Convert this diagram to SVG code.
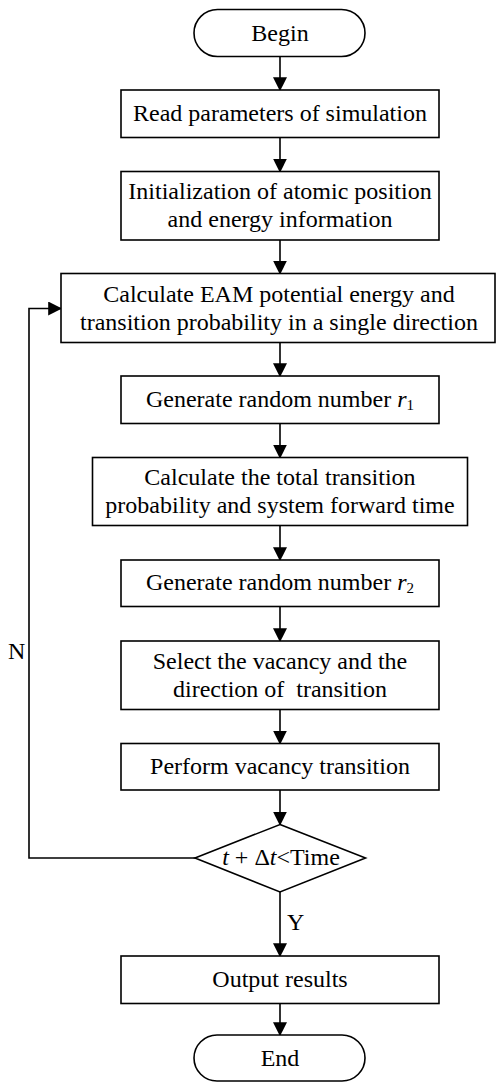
<svg xmlns="http://www.w3.org/2000/svg" width="496" height="1082" viewBox="0 0 496 1082">
  <style>
    .shape { fill: #ffffff; stroke: #000000; stroke-width: 1.6; }
    .label { font-family: "Liberation Serif", "Times New Roman", serif; font-size: 24px; fill: #000000; text-anchor: middle; }
    .side { font-family: "Liberation Serif", "Times New Roman", serif; font-size: 24px; fill: #000000; }
    .wire { fill: none; stroke: #000000; stroke-width: 1.6; }
    .sub { font-size: 15px; }
  </style>
  <defs>
    <marker id="arrow" markerUnits="userSpaceOnUse" markerWidth="14" markerHeight="14" viewBox="0 0 12 12" refX="11" refY="6" orient="auto">
      <path d="M0,0 L12,6 L0,12 Z" fill="#000000"/>
    </marker>
  </defs>

  <!-- connectors -->
  <g id="connectors">
    <line class="wire" x1="280" y1="57" x2="280" y2="90" marker-end="url(#arrow)"/>
    <line class="wire" x1="280" y1="137.5" x2="280" y2="171.5" marker-end="url(#arrow)"/>
    <line class="wire" x1="280" y1="240" x2="280" y2="273.5" marker-end="url(#arrow)"/>
    <line class="wire" x1="280" y1="342.5" x2="280" y2="376" marker-end="url(#arrow)"/>
    <line class="wire" x1="280" y1="423.5" x2="280" y2="457.5" marker-end="url(#arrow)"/>
    <line class="wire" x1="280" y1="525.5" x2="280" y2="560" marker-end="url(#arrow)"/>
    <line class="wire" x1="280" y1="606.5" x2="280" y2="641" marker-end="url(#arrow)"/>
    <line class="wire" x1="280" y1="709.5" x2="280" y2="743.5" marker-end="url(#arrow)"/>
    <line class="wire" x1="280" y1="790" x2="280" y2="824.5" marker-end="url(#arrow)"/>
    <line class="wire" x1="280" y1="892" x2="280" y2="956" marker-end="url(#arrow)"/>
    <line class="wire" x1="280" y1="1003.5" x2="280" y2="1035" marker-end="url(#arrow)"/>
    <!-- loop back when the time limit is not reached -->
    <polyline class="wire" points="195,858 29,858 29,308.5 61,308.5" marker-end="url(#arrow)"/>
    <text class="side" x="8" y="659">N</text>
    <text class="side" x="287" y="930">Y</text>
  </g>

  <g id="begin">
    <rect class="shape" x="194" y="9.5" width="171" height="47" rx="23.5" ry="23.5"/>
    <text class="label" x="280" y="41">Begin</text>
  </g>

  <g id="read-params">
    <rect class="shape" x="121" y="90" width="318" height="47.5"/>
    <text class="label" x="280" y="121">Read parameters of simulation</text>
  </g>

  <g id="init">
    <rect class="shape" x="121" y="171.5" width="318" height="68.5"/>
    <text class="label" x="280" y="199">Initialization of atomic position</text>
    <text class="label" x="280" y="227">and energy information</text>
  </g>

  <g id="calc-eam">
    <rect class="shape" x="61" y="273.5" width="434" height="69"/>
    <text class="label" x="279" y="302">Calculate EAM potential energy and</text>
    <text class="label" x="279" y="330">transition probability in a single direction</text>
  </g>

  <g id="random-r1">
    <rect class="shape" x="121" y="376" width="318" height="47.5"/>
    <text class="label" x="280" y="407">Generate random number <tspan font-style="italic">r</tspan><tspan class="sub" dy="3">1</tspan></text>
  </g>

  <g id="calc-total">
    <rect class="shape" x="92.5" y="457.5" width="375" height="68"/>
    <text class="label" x="280" y="485">Calculate the total transition</text>
    <text class="label" x="280" y="513">probability and system forward time</text>
  </g>

  <g id="random-r2">
    <rect class="shape" x="121" y="560" width="318" height="46.5"/>
    <text class="label" x="280" y="590">Generate random number <tspan font-style="italic">r</tspan><tspan class="sub" dy="3">2</tspan></text>
  </g>

  <g id="select">
    <rect class="shape" x="121" y="641" width="318" height="68.5"/>
    <text class="label" x="280" y="669">Select the vacancy and the</text>
    <text class="label" x="280" y="697">direction of&#160; transition</text>
  </g>

  <g id="perform">
    <rect class="shape" x="121" y="743.5" width="318" height="46.5"/>
    <text class="label" x="280" y="774">Perform vacancy transition</text>
  </g>

  <g id="time-check">
    <polygon class="shape" points="280,824.5 365.5,858 280,892 195,858"/>
    <text class="label" x="281" y="865"><tspan font-style="italic">t</tspan> + Δ<tspan font-style="italic">t</tspan>&lt;Time</text>
  </g>

  <g id="output">
    <rect class="shape" x="121" y="956" width="318" height="47.5"/>
    <text class="label" x="280" y="987">Output results</text>
  </g>

  <g id="end">
    <rect class="shape" x="194" y="1035" width="171" height="46" rx="23" ry="23"/>
    <text class="label" x="280" y="1066">End</text>
  </g>
</svg>
